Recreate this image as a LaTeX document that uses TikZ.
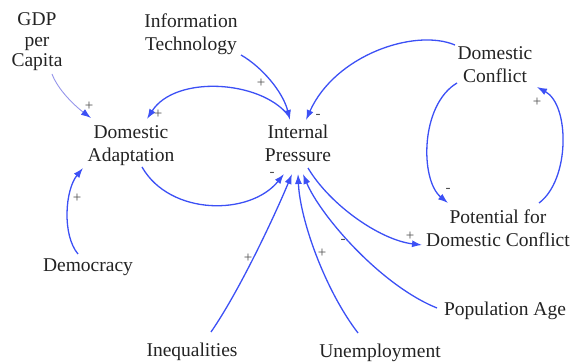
\documentclass[tikz,border=0pt]{standalone}
\usepackage{fontspec}
\setmainfont{Liberation Serif}
\usetikzlibrary{arrows.meta,calc}
\definecolor{cldblue}{RGB}{60,80,245}
\definecolor{cldlight}{RGB}{150,150,235}
\definecolor{cldtext}{RGB}{35,35,35}
\tikzset{
  var/.style={align=center,inner sep=0pt,text=cldtext,font=\rmfamily\fontsize{19.5}{23}\selectfont},
  sgn/.style={inner sep=0pt,text=cldtext!80,font=\rmfamily\fontsize{15}{15}\selectfont},
  link/.style={draw=cldblue,line width=1.3pt,-{Latex[length=10pt,width=7pt]}},
  lightlink/.style={draw=cldlight,line width=0.9pt,-{Latex[length=10pt,width=7pt,fill=cldblue,color=cldblue]}}
}
\begin{document}
\begin{tikzpicture}[x=1pt,y=-1pt]
\useasboundingbox (0,0) rectangle (573,363);
\node[var,font=\rmfamily\fontsize{19.5}{20.5}\selectfont] (gdp) at (37,42) {GDP\\per\\Capita};
\node[var] (it) at (191,34) {Information\\Technology};
\node[var] (da) at (131,146) {Domestic\\Adaptation};
\node[var] (ip) at (298,143) {Internal\\Pressure};
\node[var] (dc) at (495,65) {Domestic\\Conflict};
\node[var] (pdc) at (498,228) {Potential for\\Domestic Conflict};
\node[var] (dem) at (88,267) {Democracy};
\node[var] (ineq) at (192,352) {Inequalities};
\node[var] (unemp) at (380,353) {Unemployment};
\node[var] (pop) at (505,311) {Population Age};

% GDP -> DA
\draw[lightlink] ($(gdp)+(15,32)$) .. controls (58,90) and (75,106) .. ($(da)+(-40,-28)$);
\node[sgn] (l1) at (89,106) {+};
% IT -> IP
\draw[link] ($(it)+(50,21)$) .. controls (262,67) and (283,92) .. ($(ip)+(-8,-23)$);
\node[sgn] (l2) at (261,83) {+};
% IP -> DA
\draw[link] ($(ip)+(-10,-28)$) .. controls (260,80) and (175,75) .. ($(da)+(16,-27)$);
\node[sgn] (l3) at (158,114) {+};
% DC -> IP
\draw[link] ($(dc)+(-40,-20)$) .. controls (415,28) and (335,55) .. ($(ip)+(8,-23)$);
\node[sgn] (l4) at (318,116) {-};
% DA -> IP
\draw[link] ($(da)+(11,21)$) .. controls (170,216) and (250,216) .. ($(ip)+(-14,31)$);
\node[sgn] (l5) at (272,174) {-};
% DC -> PDC
\draw[link] ($(dc)+(-38,18)$) .. controls (420,105) and (420,180) .. ($(pdc)+(-50,-25)$);
\node[sgn] (l6) at (448,190) {-};
% PDC -> DC
\draw[link] ($(pdc)+(41,-25)$) .. controls (570,180) and (570,105) .. ($(dc)+(42,22)$);
\node[sgn] (l7) at (537,102) {+};
% IP -> PDC
\draw[link] ($(ip)+(10,25)$) .. controls (330,205) and (380,240) .. ($(pdc)+(-76,17)$);
\node[sgn] (l8) at (410,236) {+};
% Dem -> DA
\draw[link] ($(dem)+(-10,-13)$) .. controls (62,235) and (65,190) .. ($(da)+(-48,22)$);
\node[sgn] (l9) at (77,198) {+};
% Ineq -> IP
\draw[link] ($(ineq)+(19,-20)$) .. controls (240,290) and (275,215) .. ($(ip)+(-6,31)$);
\node[sgn] (l10) at (248,258) {+};
% Unemp -> IP
\draw[link] ($(unemp)+(-22,-20)$) .. controls (325,290) and (300,220) .. ($(ip)+(0,31)$);
\node[sgn] (l11) at (322,253) {+};
% Pop -> IP
\draw[link] ($(pop)+(-68,-3)$) .. controls (380,285) and (320,215) .. ($(ip)+(5,31)$);
\node[sgn] (l12) at (343,241) {-};
\end{tikzpicture}
\end{document}
